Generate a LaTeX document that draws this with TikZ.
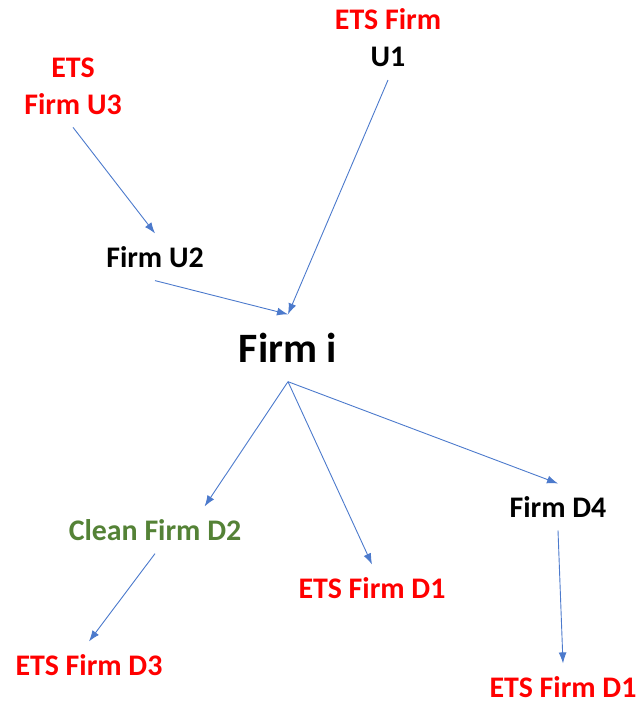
\documentclass[tikz,border=0pt]{standalone}
\usepackage{fontspec}
\setmainfont{Carlito}
\usepackage{tikz}
\usetikzlibrary{arrows.meta}
\usetikzlibrary{calc}
\definecolor{etsred}{rgb}{1.0,0.0,0.0}
\definecolor{cleangreen}{rgb}{0.33,0.51,0.21}
\definecolor{linkblue}{rgb}{0.30,0.48,0.80}
\tikzset{firm/.style={inner sep=0pt, outer sep=13bp, font=\fontsize{30}{37}\selectfont\bfseries, align=center},
  link/.style={->, draw=linkblue, line width=0.9bp}}

\begin{document}
\begin{tikzpicture}[>={Latex[length=11bp,width=8bp]}]
  \useasboundingbox (0bp,0bp) rectangle (639bp,-705bp);
%%
  \node (u1) at (388bp,-38bp) [firm] {\textcolor{etsred}{ETS Firm}\\U1};
  \node (u3) at (73bp,-86bp) [firm, text=etsred] {ETS\\Firm U3};
  \node (u2) at (155bp,-257bp) [firm] {Firm U2};
  \node (fi) at (288bp,-348bp) [firm, outer sep=19bp, font=\fontsize{42}{50}\selectfont\bfseries] {Firm i};
  \node (d2) at (155bp,-530bp) [firm, text=cleangreen] {Clean Firm D2};
  \node (d1) at (372bp,-588bp) [firm, text=etsred] {ETS Firm D1};
  \node (d4) at (558bp,-507bp) [firm] {Firm D4};
  \node (d3) at (89bp,-665bp) [firm, text=etsred] {ETS Firm D3};
  \node (d1r) at (563bp,-687bp) [firm, text=etsred] {ETS Firm D1};
  \draw [link] (u3.south) -- (u2.north);
  \draw [link] (u2.south) -- (fi.north);
  \draw [link] (u1.south) -- (fi.north);
  \draw [link] (fi.south) -- ($(d2.north)!0.5!(d2.north east)$);
  \draw [link] (fi.south) -- (d1.north);
  \draw [link] (fi.south) -- (d4.north);
  \draw [link] (d2.south) -- (d3.north);
  \draw [link] (d4.south) -- (d1r.north);
%
\end{tikzpicture}
\end{document}
